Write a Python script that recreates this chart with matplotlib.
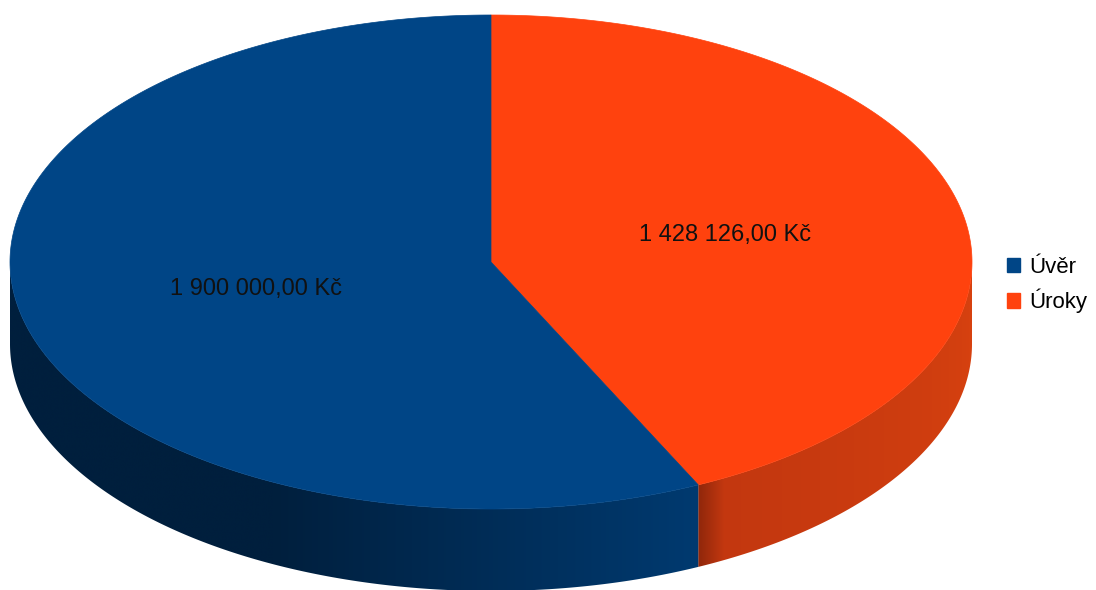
import numpy as np
import matplotlib
matplotlib.use("Agg")
import matplotlib.pyplot as plt
from matplotlib.patches import Polygon, Patch
from matplotlib.colors import to_rgb

plt.rcParams['font.family'] = ['Liberation Sans', 'DejaVu Sans']

labels = ['Úvěr', 'Úroky']
values = [1900000.00, 1428126.00]
top_colors = ['#004586', '#ff420e']
# side shading: (colour near start of visible side, colour near end)
side_colors = [('#003a70', '#001f3d'), ('#d8420f', '#c23710')]

# pie geometry in pixels
cx, cy = 491, 262
rx, ry = 481, 247
depth = 82


def pt(phi, r=1.0, dz=0):
    # phi = degrees clockwise from 12 o'clock
    a = np.radians(phi)
    return cx + rx * r * np.sin(a), cy - ry * r * np.cos(a) + dz


def fmt(v):
    s = f"{v:,.2f}".replace(',', ' ').replace('.', ',')
    return s + ' Kč'


def mix(c1, c2, t):
    c1, c2 = np.array(to_rgb(c1)), np.array(to_rgb(c2))
    t = np.clip(np.asarray(t), 0, 1)[..., None]
    return c1 + (c2 - c1) * t


fig = plt.figure(figsize=(10.96, 5.90), dpi=100)
ax = fig.add_axes([0, 0, 1, 1])
ax.set_xlim(0, 1096)
ax.set_ylim(590, 0)
ax.axis('off')

total = sum(values)
# orange (Úroky) goes clockwise from the top, Úvěr fills the rest
spans = {}
start = 0.0
for i in [1, 0]:
    sweep = values[i] / total * 360
    spans[i] = (start, start + sweep)
    start += sweep

# sides (visible part is between 90 and 270 deg), gradient clipped to the side shape
for i, (a0, a1) in spans.items():
    s0, s1 = max(a0, 90), min(a1, 270)
    if s1 <= s0:
        continue
    ang = np.linspace(s0, s1, 300)
    xt, yt = pt(ang)
    xb, yb = pt(ang[::-1], dz=depth)
    verts = list(zip(xt, yt)) + list(zip(xb, yb))
    poly = Polygon(verts, closed=True, facecolor='none', edgecolor='none')
    ax.add_patch(poly)

    x0, x1 = min(xt.min(), xb.min()) - 2, max(xt.max(), xb.max()) + 2
    xs = np.linspace(x0, x1, 800)
    phi = 180 - np.degrees(np.arcsin(np.clip((xs - cx) / rx, -1, 1)))
    t = (phi - s0) / (s1 - s0)
    if i == 1:
        col = mix(side_colors[i][0], side_colors[i][1], t)
        dark = np.clip((phi - (s1 - 3.5)) / 3.5, 0, 1) * 0.7
        col = col + (np.array(to_rgb('#7a2008')) - col) * dark[:, None]
    else:
        col = mix(side_colors[i][0], side_colors[i][1], t * 2.2)
    img = np.repeat(col[None, :, :], 2, axis=0)
    im = ax.imshow(img, extent=(x0, x1, 590, 0), aspect='auto', interpolation='bilinear')
    im.set_clip_path(poly)

ax.set_xlim(0, 1096)
ax.set_ylim(590, 0)

# top faces
for i, (a0, a1) in spans.items():
    ang = np.linspace(a0, a1, 300)
    xs, ys = pt(ang)
    verts = [(cx, cy)] + list(zip(xs, ys))
    ax.add_patch(Polygon(verts, closed=True, facecolor=top_colors[i],
                         edgecolor=top_colors[i], lw=0.5))
    mid = (a0 + a1) / 2
    tx, ty = pt(mid, r=0.5)
    ax.text(tx, ty, fmt(values[i]), ha='center', va='center',
            fontsize=17, color='#111111')

handles = [Patch(facecolor=c, edgecolor=c) for c in top_colors]
fig.legend(handles, labels, loc='center left', bbox_to_anchor=(987 / 1096, 1 - 285 / 590),
           frameon=False, fontsize=16, handlelength=0.6, handleheight=0.6,
           handletextpad=0.4, labelspacing=0.5)

fig.savefig('out.png', dpi=100)
